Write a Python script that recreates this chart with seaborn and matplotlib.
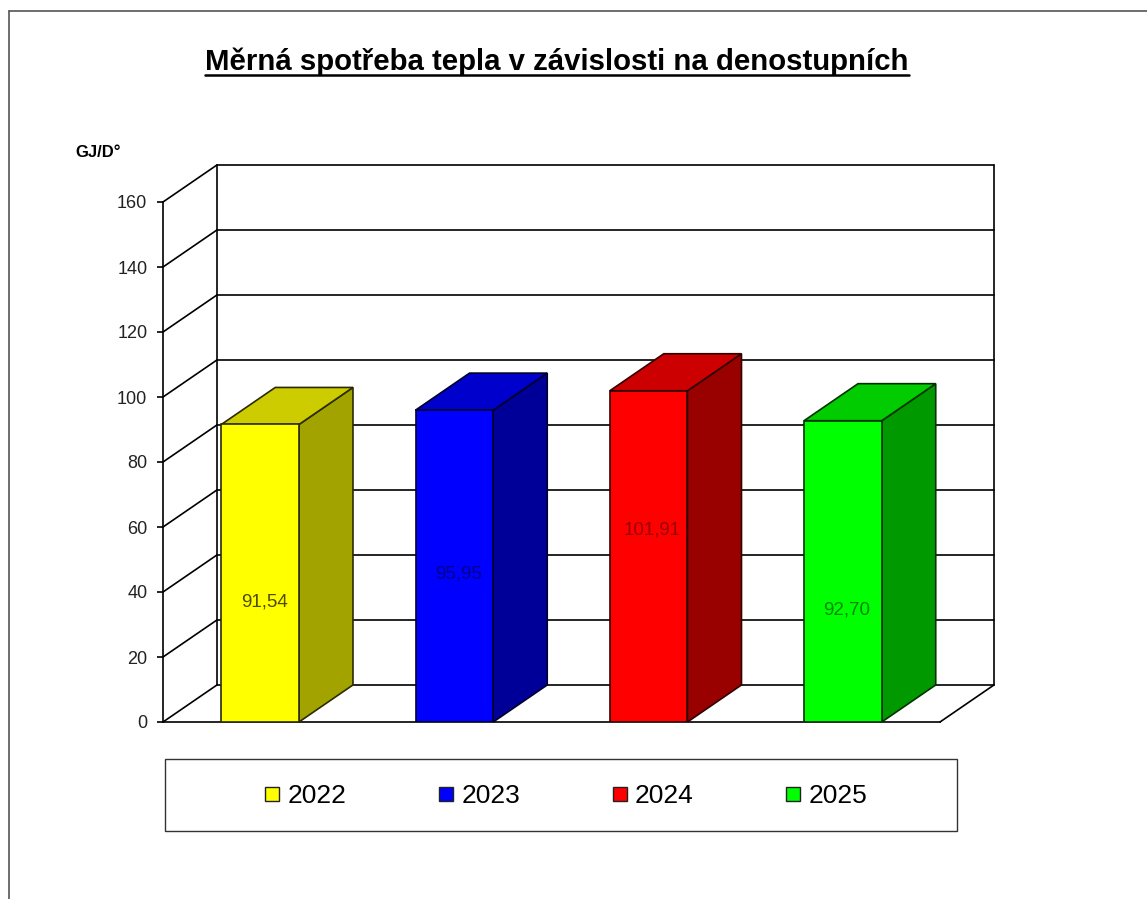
import numpy as np
import pandas as pd
import seaborn as sns
import matplotlib.pyplot as plt
from matplotlib.patches import Polygon, Rectangle
from matplotlib.lines import Line2D

# data
years = ['2022', '2023', '2024', '2025']
values = [91.54, 95.95, 101.91, 92.70]
y_ticks = [0, 20, 40, 60, 80, 100, 120, 140, 160]

title = 'Měrná spotřeba tepla v závislosti na denostupních'
unit = 'GJ/D°'

# colours of the 3d faces
front_colors = ['#ffff00', '#0000ff', '#ff0000', '#00ff00']
top_colors = ['#cccc00', '#0000cc', '#cc0000', '#00cc00']
side_colors = ['#a3a300', '#000099', '#990000', '#009900']
edge_colors = ['#2b2b00', '#00002b', '#330000', '#003300']
label_colors = ['#4d4d00', '#00008a', '#990000', '#008800']
# where excel put the value labels inside the bars
label_pos = [37, 45.5, 59, 34.5]

W, H = 1147, 899
dx, dy = 0.278, 11.4  # depth of the 3d box in data units

sns.set_theme(style='white')
plt.rcParams['font.family'] = ['Liberation Sans', 'DejaVu Sans']
plt.rcParams['text.color'] = 'black'

fig = plt.figure(figsize=(W / 100, H / 100), dpi=100)
ax = fig.add_axes([163 / W, 177 / H, 777 / W, 520 / H])

df = pd.DataFrame({'year': years, 'value': values})
sns.barplot(data=df, x='year', y='value', hue='year',
            palette=dict(zip(years, front_colors)), saturation=1,
            width=0.4, errorbar=None, legend=False, ax=ax)

# back wall, left wall and floor
for v in y_ticks:
    ax.plot([-0.5 + dx, 3.5 + dx], [v + dy, v + dy], color='black', lw=1.2, zorder=1, clip_on=False)
    ax.plot([-0.5, -0.5 + dx], [v, v + dy], color='black', lw=1.2, zorder=1, clip_on=False)
ax.plot([-0.5 + dx, -0.5 + dx], [dy, y_ticks[-1] + dy], color='black', lw=1.2, zorder=1, clip_on=False)
ax.plot([3.5 + dx, 3.5 + dx], [dy, y_ticks[-1] + dy], color='black', lw=1.2, zorder=1, clip_on=False)
ax.plot([3.5, 3.5 + dx], [0, dy], color='black', lw=1.2, zorder=1, clip_on=False)

# side and top faces of the bars
bars = sorted(ax.patches, key=lambda p: p.get_x())
for i, p in enumerate(bars):
    x0 = p.get_x()
    x1 = x0 + p.get_width()
    h = p.get_height()
    p.set_edgecolor(edge_colors[i])
    p.set_linewidth(1.2)
    p.set_zorder(4)
    side = Polygon([(x1, 0), (x1 + dx, dy), (x1 + dx, h + dy), (x1, h)], closed=True,
                   fc=side_colors[i], ec=edge_colors[i], lw=1.2, zorder=3, clip_on=False)
    top = Polygon([(x0, h), (x0 + dx, h + dy), (x1 + dx, h + dy), (x1, h)], closed=True,
                  fc=top_colors[i], ec=edge_colors[i], lw=1.2, zorder=3, clip_on=False)
    ax.add_patch(side)
    ax.add_patch(top)
    ax.text((x0 + x1) / 2 + 0.02, label_pos[i], f'{values[i]:.2f}'.replace('.', ','),
            ha='center', va='center', fontsize=13.5, color=label_colors[i], zorder=5)

ax.set_xlim(-0.5, 3.5)
ax.set_ylim(0, 160)
ax.set_yticks(y_ticks)
ax.set_xticks([])
ax.set_xlabel('')
ax.set_ylabel('')
ax.tick_params(axis='y', left=True, length=4.3, width=1.2, color='black', pad=7,
               labelsize=13, labelcolor='#222222', direction='out')
for s in ['top', 'right']:
    ax.spines[s].set_visible(False)
for s in ['left', 'bottom']:
    ax.spines[s].set_color('black')
    ax.spines[s].set_linewidth(1.2)
ax.patch.set_alpha(0)

# texts
fig.text(75 / W, 1 - 157 / H, unit, ha='left', va='baseline', fontsize=12, fontweight='bold', color='black')
t = fig.text(557 / W, 1 - 70 / H, title, ha='center', va='baseline', fontsize=21.2,
             fontweight='bold', color='black')
fig.canvas.draw()
bb = t.get_window_extent()
fig.add_artist(Line2D([bb.x0 / W, bb.x1 / W], [1 - 75 / H, 1 - 75 / H],
                      transform=fig.transFigure, color='black', lw=1.8))

# frame of the sheet
fig.add_artist(Line2D([9 / W, 9 / W], [0, 1 - 11 / H], transform=fig.transFigure, color='#555555', lw=1.2))
fig.add_artist(Line2D([9 / W, 1], [1 - 11 / H, 1 - 11 / H], transform=fig.transFigure, color='#555555', lw=1.2))

# legend
fig.add_artist(Rectangle((165 / W, 68 / H), 792 / W, 72 / H, transform=fig.transFigure,
                         fill=False, ec='#333333', lw=1))
handles = [Line2D([], [], ls='none', marker='s', markersize=10, mfc=c, mec='#222222', mew=1)
           for c in front_colors]
leg = fig.legend(handles, years, loc='center', bbox_to_anchor=(566 / W, 103 / H), ncol=4,
                 frameon=False, fontsize=19, handlelength=0.55, handletextpad=0.3,
                 columnspacing=3.5, borderpad=0)
for txt in leg.get_texts():
    txt.set_color('black')

fig.savefig('out.png', dpi=100)
